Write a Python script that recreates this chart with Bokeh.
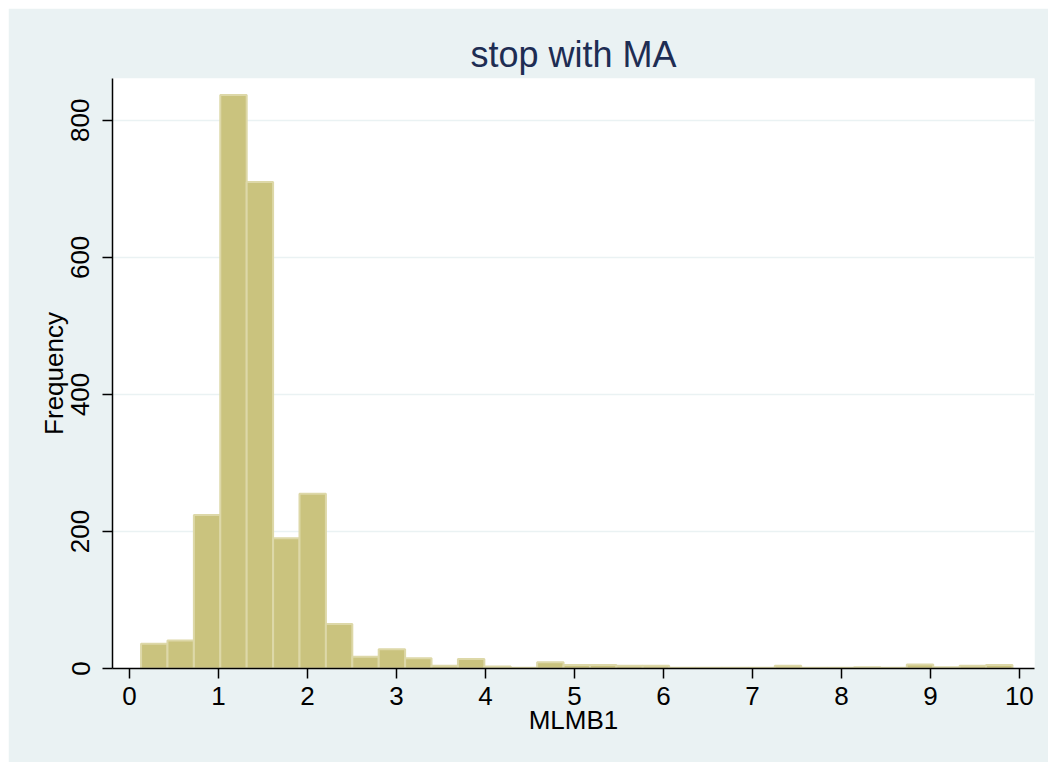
from bokeh.plotting import figure
from bokeh.models import FixedTicker, Range1d
from bokeh.embed import file_html
from bokeh.resources import INLINE

# Histogram of MLMB1 (33 bins)
bin_start = 0.131
bin_width = 0.2967
counts = [36, 41, 224, 837, 710, 190, 255, 65, 17, 28, 15, 4, 14, 3, 1, 9, 5, 5, 4, 4,
          1, 1, 1, 1, 4, 1, 1, 2, 1, 6, 2, 4, 5]
x_ticks = [0, 1, 2, 3, 4, 5, 6, 7, 8, 9, 10]
y_ticks = [0, 200, 400, 600, 800]

lefts = [bin_start + i * bin_width for i in range(len(counts))]
rights = [l + bin_width for l in lefts]
bottoms = [0] * len(counts)

FONT = "Liberation Sans"

p = figure(width=1040, height=754, output_backend="svg", toolbar_location=None,
           x_range=Range1d(-0.19, 10.17), y_range=Range1d(0, 861),
           title="stop with MA")
p.margin = (8, 8, 8, 8)
p.min_border_left = 104
p.min_border_right = 14
p.min_border_top = 70
p.min_border_bottom = 94

p.border_fill_color = "#EAF2F3"
p.background_fill_color = "white"
p.outline_line_color = None

p.title.align = "center"
p.title.text_font = FONT
p.title.text_font_size = "36px"
p.title.text_font_style = "normal"
p.title.text_color = "#1E2D53"
p.title.offset = 0
p.title.standoff = 7

p.quad(left=lefts, right=rights, bottom=bottoms, top=counts,
       fill_color="#CAC37E", line_color="#DDD8A8", line_width=2)

p.xaxis.ticker = FixedTicker(ticks=x_ticks)
p.yaxis.ticker = FixedTicker(ticks=y_ticks)
p.xaxis.axis_label = "MLMB1"
p.yaxis.axis_label = "Frequency"
p.yaxis.major_label_orientation = "vertical"

for ax in (p.xaxis[0], p.yaxis[0]):
    ax.axis_line_color = "black"
    ax.axis_line_width = 1.5
    ax.major_tick_line_color = "black"
    ax.major_tick_line_width = 1.5
    ax.major_tick_out = 10
    ax.major_tick_in = 0
    ax.minor_tick_line_color = None
    ax.major_label_text_font = FONT
    ax.major_label_text_font_size = "26px"
    ax.major_label_text_color = "black"
    ax.axis_label_text_font = FONT
    ax.axis_label_text_font_size = "26px"
    ax.axis_label_text_font_style = "normal"
    ax.axis_label_text_color = "black"
    ax.axis_label_standoff = 0

p.xaxis.major_label_standoff = 8
p.yaxis.major_label_standoff = 13
p.xaxis.axis_label_standoff = -3

p.xgrid.grid_line_color = None
p.ygrid.grid_line_color = "#EAF2F3"
p.ygrid.grid_line_width = 1.5

open("out.html", "w").write(file_html(p, INLINE))
